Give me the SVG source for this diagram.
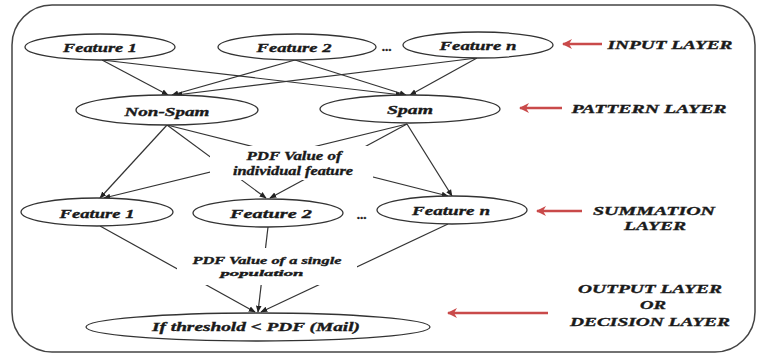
<svg xmlns="http://www.w3.org/2000/svg" width="759" height="356" viewBox="0 0 759 356">
<style>
.node ellipse{fill:#fff;stroke:#333;stroke-width:1.3}
.t{font-family:"Liberation Serif","Times New Roman",serif;font-weight:bold;font-style:italic;fill:#1a1a1a;stroke:#1a1a1a;stroke-width:0.35;text-anchor:middle}
.edge{stroke:#333;stroke-width:1.2;fill:none}
.red{stroke:#c94a4a;stroke-width:2.5;fill:none}
.lbl rect{fill:#fff;stroke:none}
</style>
<defs>
<marker id="ah" viewBox="0 0 10 10" refX="9" refY="5" markerWidth="7" markerHeight="7" orient="auto" markerUnits="userSpaceOnUse">
<path d="M0,1 L10,5 L0,9 Z" fill="#222"/>
</marker>
<marker id="rh" viewBox="0 0 10 10" refX="9" refY="5" markerWidth="12" markerHeight="10" orient="auto" markerUnits="userSpaceOnUse">
<path d="M0,0 L10,5 L0,10 L3,5 Z" fill="#c94a4a"/>
</marker>
</defs>
<rect x="0" y="0" width="759" height="356" fill="#fff"/>
<rect x="12" y="5" width="743" height="347" rx="40" ry="40" fill="none" stroke="#444" stroke-width="1.5"/>

<g id="connectors">
<line class="edge" x1="102" y1="60" x2="168" y2="95" marker-end="url(#ah)"/>
<line class="edge" x1="102" y1="60" x2="402" y2="95" marker-end="url(#ah)"/>
<line class="edge" x1="295" y1="60" x2="172" y2="95" marker-end="url(#ah)"/>
<line class="edge" x1="295" y1="60" x2="406" y2="95" marker-end="url(#ah)"/>
<line class="edge" x1="477" y1="58" x2="176" y2="95" marker-end="url(#ah)"/>
<line class="edge" x1="477" y1="58" x2="410" y2="95" marker-end="url(#ah)"/>
<line class="edge" x1="167" y1="125" x2="100" y2="198" marker-end="url(#ah)"/>
<line class="edge" x1="167" y1="125" x2="266" y2="198" marker-end="url(#ah)"/>
<line class="edge" x1="167" y1="125" x2="448" y2="196" marker-end="url(#ah)"/>
<line class="edge" x1="407" y1="124" x2="104" y2="198" marker-end="url(#ah)"/>
<line class="edge" x1="407" y1="124" x2="270" y2="198" marker-end="url(#ah)"/>
<line class="edge" x1="407" y1="124" x2="452" y2="196" marker-end="url(#ah)"/>
<line class="edge" x1="100" y1="226" x2="255" y2="312" marker-end="url(#ah)"/>
<line class="edge" x1="268" y1="227" x2="258" y2="312" marker-end="url(#ah)"/>
<line class="edge" x1="448" y1="224" x2="261" y2="312" marker-end="url(#ah)"/>
<line class="red" x1="602" y1="44" x2="563" y2="44" marker-end="url(#rh)"/>
<line class="red" x1="562" y1="108" x2="520" y2="108" marker-end="url(#rh)"/>
<line class="red" x1="582" y1="211" x2="537" y2="211" marker-end="url(#rh)"/>
<line class="red" x1="548" y1="313" x2="448" y2="313" marker-end="url(#rh)"/>
</g>

<g id="label-pdf-individual" class="lbl">
<rect x="210" y="146" width="163" height="34"/>
<text class="t" x="294" y="160" font-size="12" textLength="95" lengthAdjust="spacingAndGlyphs">PDF Value of</text>
<text class="t" x="293" y="175" font-size="12" textLength="120" lengthAdjust="spacingAndGlyphs">individual feature</text>
</g>
<g id="label-pdf-single" class="lbl">
<rect x="177" y="248" width="180" height="37"/>
<text class="t" x="267" y="264" font-size="11" textLength="149" lengthAdjust="spacingAndGlyphs">PDF Value of a single</text>
<text class="t" x="262" y="276" font-size="9" textLength="83" lengthAdjust="spacingAndGlyphs">population</text>
</g>

<g id="in-f1" class="node"><ellipse cx="100" cy="47" rx="75" ry="13"/><text class="t" x="100" y="52" font-size="13" textLength="74" lengthAdjust="spacingAndGlyphs">Feature 1</text></g>
<g id="in-f2" class="node"><ellipse cx="297" cy="47" rx="79" ry="13"/><text class="t" x="294" y="52" font-size="13" textLength="75" lengthAdjust="spacingAndGlyphs">Feature 2</text></g>
<g id="in-dots"><text class="t" x="387" y="51" font-size="13">...</text></g>
<g id="in-fn" class="node"><ellipse cx="478" cy="45" rx="75" ry="13"/><text class="t" x="478" y="50" font-size="13" textLength="77" lengthAdjust="spacingAndGlyphs">Feature n</text></g>

<g id="pat-nonspam" class="node"><ellipse cx="167" cy="110" rx="91" ry="15"/><text class="t" x="167" y="116" font-size="13" textLength="85" lengthAdjust="spacingAndGlyphs">Non-Spam</text></g>
<g id="pat-spam" class="node"><ellipse cx="410" cy="109" rx="90" ry="14"/><text class="t" x="410" y="114" font-size="13" textLength="46" lengthAdjust="spacingAndGlyphs">Spam</text></g>

<g id="sum-f1" class="node"><ellipse cx="97" cy="212" rx="76" ry="14"/><text class="t" x="97" y="218" font-size="13" textLength="75" lengthAdjust="spacingAndGlyphs">Feature 1</text></g>
<g id="sum-f2" class="node"><ellipse cx="268" cy="213" rx="75" ry="14"/><text class="t" x="271" y="218" font-size="13" textLength="82" lengthAdjust="spacingAndGlyphs">Feature 2</text></g>
<g id="sum-dots"><text class="t" x="362" y="219" font-size="13">...</text></g>
<g id="sum-fn" class="node"><ellipse cx="452" cy="210" rx="75" ry="14"/><text class="t" x="451" y="215" font-size="13" textLength="78" lengthAdjust="spacingAndGlyphs">Feature n</text></g>

<g id="out" class="node"><ellipse cx="258" cy="327" rx="172" ry="14"/><text class="t" x="256" y="331" font-size="13" textLength="208" lengthAdjust="spacingAndGlyphs">If threshold &lt; PDF (Mail)</text></g>

<g id="layer-labels">
<text class="t" x="670" y="49" font-size="13" textLength="125" lengthAdjust="spacingAndGlyphs">INPUT LAYER</text>
<text class="t" x="649" y="113" font-size="13" textLength="155" lengthAdjust="spacingAndGlyphs">PATTERN LAYER</text>
<text class="t" x="654" y="215" font-size="13" textLength="122" lengthAdjust="spacingAndGlyphs">SUMMATION</text>
<text class="t" x="655" y="230" font-size="13" textLength="62" lengthAdjust="spacingAndGlyphs">LAYER</text>
<text class="t" x="650" y="293" font-size="13" textLength="144" lengthAdjust="spacingAndGlyphs">OUTPUT LAYER</text>
<text class="t" x="653" y="309" font-size="13" textLength="26" lengthAdjust="spacingAndGlyphs">OR</text>
<text class="t" x="650" y="326" font-size="13" textLength="160" lengthAdjust="spacingAndGlyphs">DECISION LAYER</text>
</g>
</svg>
